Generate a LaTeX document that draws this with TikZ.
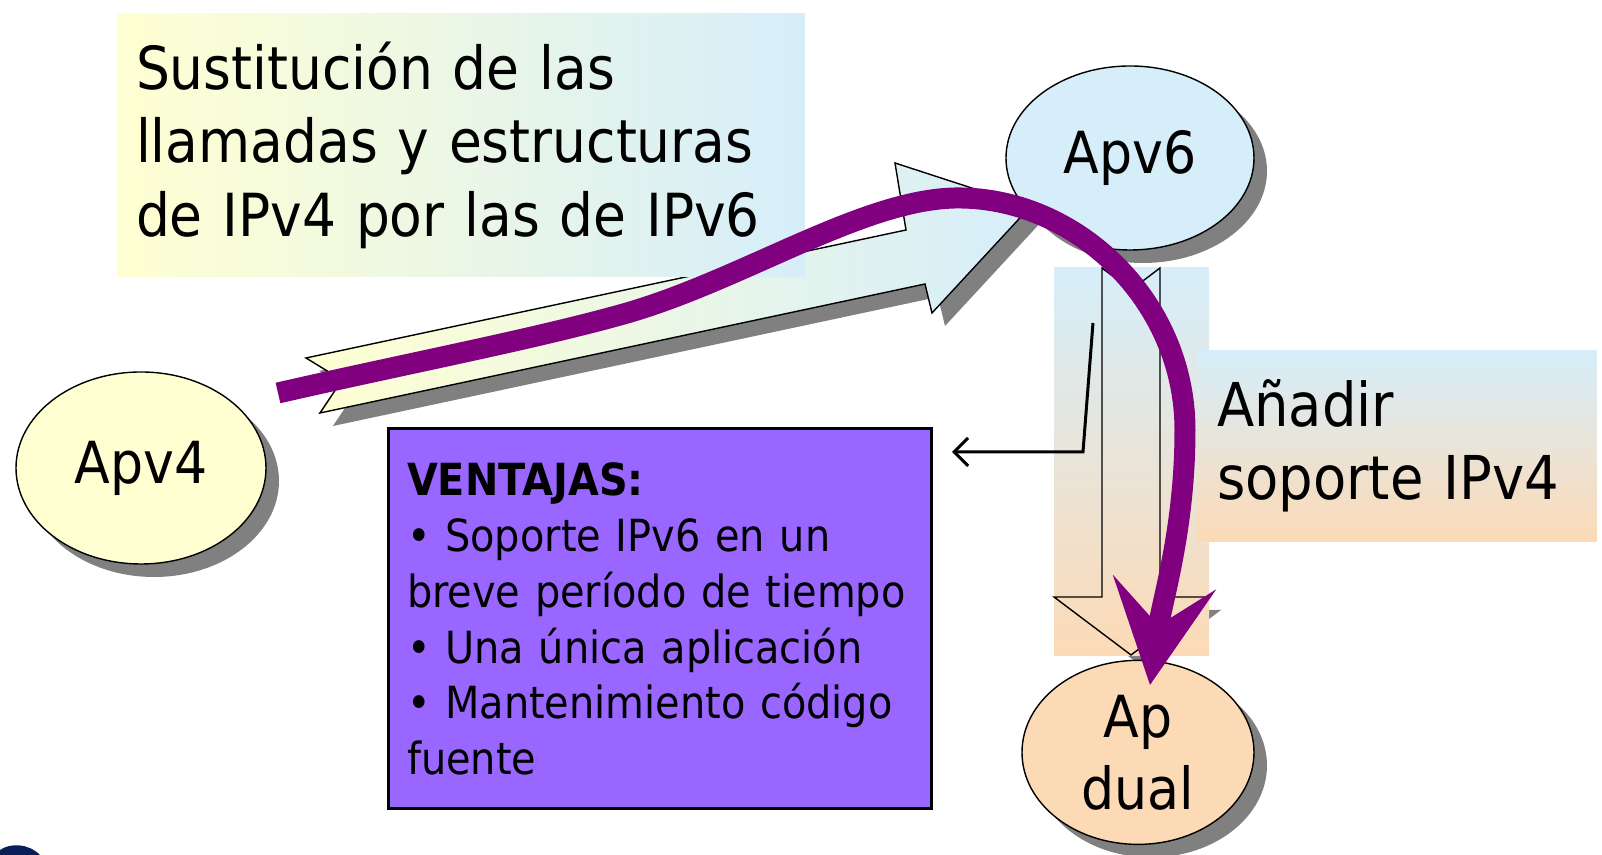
\documentclass[tikz,border=0pt]{standalone}
\usepackage{fontspec}
\setmainfont{DejaVu Sans}[FakeStretch=0.9]
\usetikzlibrary{arrows.meta,shapes.geometric,shadows,positioning}
\definecolor{paleyellow}{HTML}{FFFFD2}
\definecolor{paleblue}{HTML}{D6EEFA}
\definecolor{palepeach}{HTML}{FCDAB6}
\definecolor{boxviolet}{HTML}{9966FF}
\definecolor{curveviolet}{HTML}{800080}
\definecolor{shadowgray}{HTML}{808080}
\definecolor{logoblue}{HTML}{0A1E5A}
\tikzset{
  app/.style={
    ellipse, draw=black, thin, inner sep=0pt, align=center,
    font=\fontsize{16.5}{20.5}\selectfont,
    general shadow={fill=shadowgray, shadow xshift=1.3mm, shadow yshift=-1.3mm}
  },
  %
  gradbox/.style={
    rectangle, inner sep=0pt, align=left,
    font=\fontsize{16.9}{20.9}\selectfont
  },
  %
  ventbox/.style={
    rectangle, draw=black, line width=0.3mm, fill=boxviolet, inner sep=0pt,
    align=left, font=\fontsize{12.6}{15.9}\selectfont
  },
  %
  blockarrow/.style={
    draw=black, thin,
    general shadow={fill=shadowgray, shadow xshift=1.3mm, shadow yshift=-1.3mm}
  },
  %
  pointer/.style={
    line width=0.3mm, -{Straight Barb[length=1.4mm,width=2.8mm]}
  },
  %
  migration/.style={
    draw=curveviolet, line width=2.1mm,
    -{Stealth[length=10.3mm,width=10.3mm,inset=4.3mm]}
  }
}

\begin{document}
\begin{tikzpicture}[x=0.1mm, y=-0.1mm]
\useasboundingbox (0,0) rectangle (1602,855);

% big arrow Apv4 -> Apv6
\shade[blockarrow, left color=paleyellow, right color=paleblue]
  (306,358) -- (342,380) -- (320,413) -- (925,284) -- (932,313)
  -- (1030,207) -- (895,163) -- (906,230) -- cycle;

\node(subst)[gradbox, left color=paleyellow, right color=paleblue,
  minimum width=68.8mm, minimum height=26.3mm, text width=65mm] at (461,145) {
    Sustitución de las\\
    llamadas y estructuras\\
    de IPv4 por las de IPv6
};

\node(apv4)[app, fill=paleyellow, minimum width=25mm, minimum height=19.2mm] at (141,468) {Apv4};

% vertical arrow Apv6 -> Ap dual
\def\vertarrow{(1102,268) -- (1131,290) -- (1160,268) -- (1160,597) -- (1208,597)
  -- (1131,655) -- (1054,597) -- (1102,597) -- cycle}
\fill[shadowgray, transform canvas={shift={(1.3mm,-1.3mm)}}] \vertarrow;
\shade[top color=paleblue, bottom color=palepeach] (1054,268) rectangle (1209,656);
\draw[thin] \vertarrow;

\node(add)[gradbox, top color=paleblue, bottom color=palepeach,
  minimum width=39.9mm, minimum height=19.1mm, text width=36mm,
  font=\fontsize{17.2}{20.9}\selectfont] at (1397,446) {
    Añadir\\
    soporte IPv4
};

\node(apv6)[app, fill=paleblue, minimum width=24.8mm, minimum height=18.4mm] at (1130,158) {Apv6};
\node(dual)[app, fill=palepeach, minimum width=23.2mm, minimum height=18.4mm,
  below=40.9mm of apv6, xshift=0.8mm] {Ap\\dual};

\node(ventajas)[ventbox, minimum width=54.3mm, minimum height=38mm, text width=50.6mm] at (660,619) {
    \textbf{VENTAJAS:}\\
    • Soporte IPv6 en un\\
    breve período de tiempo\\
    • Una única aplicación\\
    • Mantenimiento código\\
    fuente
};

\coordinate(hook) at (1093,323);
\coordinate(bend) at (1083,452);
\draw[pointer] (hook) -- (bend) -- ([xshift=1.9mm]ventajas.east |- bend);

% migration path
\coordinate(cstart) at (278,393);
\coordinate(ctip) at (1150,685);
\draw[migration] (cstart) .. controls (400,365) and (530,340) .. (620,315)
  .. controls (740,282) and (860,200) .. (955,198)
  .. controls (1075,196) and (1185,300) .. (1185,430)
  .. controls (1185,530) and (1162,600) .. (ctip);

\fill[logoblue] (0,855) -- (0,850) .. controls (10,843) and (28,843) .. (40,855) -- cycle;
\end{tikzpicture}
\end{document}
